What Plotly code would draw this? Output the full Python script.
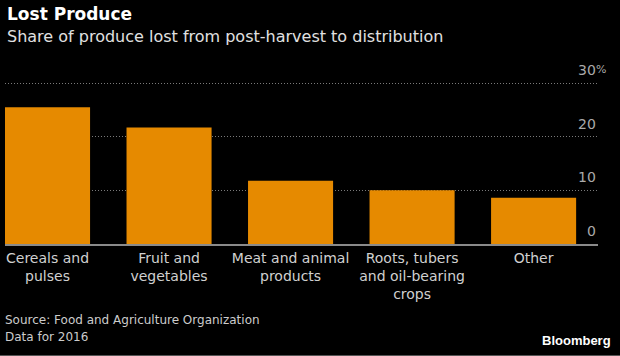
import plotly.graph_objects as go

categories = ["Cereals and<br>pulses", "Fruit and<br>vegetables", "Meat and animal<br>products",
              "Roots, tubers<br>and oil-bearing<br>crops", "Other"]
values = [25.5, 21.7, 11.8, 10.0, 8.6]
y_ticks = [0, 10, 20, 30]
y_tick_labels = ["0", "10", "20", "30"]

FONT = "DejaVu Sans"
W, H = 620, 356
L, R, T, B = 5, 22, 82, 112
PW, PH = W - L - R, H - T - B


def px(x):
    return (x - L) / PW


def py(y):
    return (H - B - y) / PH


fig = go.Figure()
fig.add_trace(go.Bar(x=list(range(len(categories))), y=values, marker=dict(color="#E68A00", line=dict(width=0)),
                     width=0.70, hoverinfo="skip"))

fig.update_layout(
    width=W, height=H,
    paper_bgcolor="black", plot_bgcolor="black",
    margin=dict(l=L, r=R, t=T, b=B),
    showlegend=False,
    xaxis=dict(range=[-0.35, 4.53], tickvals=list(range(len(categories))), ticktext=categories,
               showgrid=False, zeroline=False, showline=True, linecolor="#8a8a8a", linewidth=2,
               ticks="", tickfont=dict(family=FONT, size=14, color="#d0d0d0"), fixedrange=True),
    yaxis=dict(range=[0, 30.2], tickvals=y_ticks, showticklabels=False, showgrid=True,
               gridcolor="#7a7a7a", griddash="1px,2px", gridwidth=1, zeroline=False, fixedrange=True),
)

for v, lab in zip(y_ticks, y_tick_labels):
    fig.add_annotation(x=1, xref="paper", xanchor="right", y=v, yref="y", yanchor="bottom", yshift=3,
                       text=lab, showarrow=False, font=dict(family=FONT, size=14, color="#aaaaaa"))
fig.add_annotation(x=1, xref="paper", xanchor="left", y=30, yref="y", yanchor="bottom", yshift=5, xshift=-4,
                   text="%", showarrow=False, font=dict(family=FONT, size=11, color="#aaaaaa"))

texts = [
    ("<b>Lost Produce</b>", 7, 14, 17, "white", "left"),
    ("Share of produce lost from post-harvest to distribution", 7, 36, 16, "#e0e0e0", "left"),
    ("Source: Food and Agriculture Organization", 5, 320, 12, "#cccccc", "left"),
    ("Data for 2016", 5, 337, 12, "#cccccc", "left"),
]
for t, x, y, s, c, anc in texts:
    fig.add_annotation(x=px(x), y=py(y), xref="paper", yref="paper", text=t, showarrow=False,
                       xanchor=anc, yanchor="middle", xshift=-2, font=dict(family=FONT, size=s, color=c))
fig.add_annotation(x=px(613), y=py(340), xref="paper", yref="paper", text="<b>Bloomberg</b>", showarrow=False,
                   xanchor="right", yanchor="middle", font=dict(family="Liberation Sans", size=13, color="white"))
fig.add_shape(type="line", xref="paper", yref="paper", x0=px(0), x1=px(620), y0=py(355.5), y1=py(355.5),
              line=dict(color="#555555", width=1))

fig.write_html("out.html", config={"displayModeBar": False},
               post_script="document.body.style.margin='0';document.body.style.background='black';")
